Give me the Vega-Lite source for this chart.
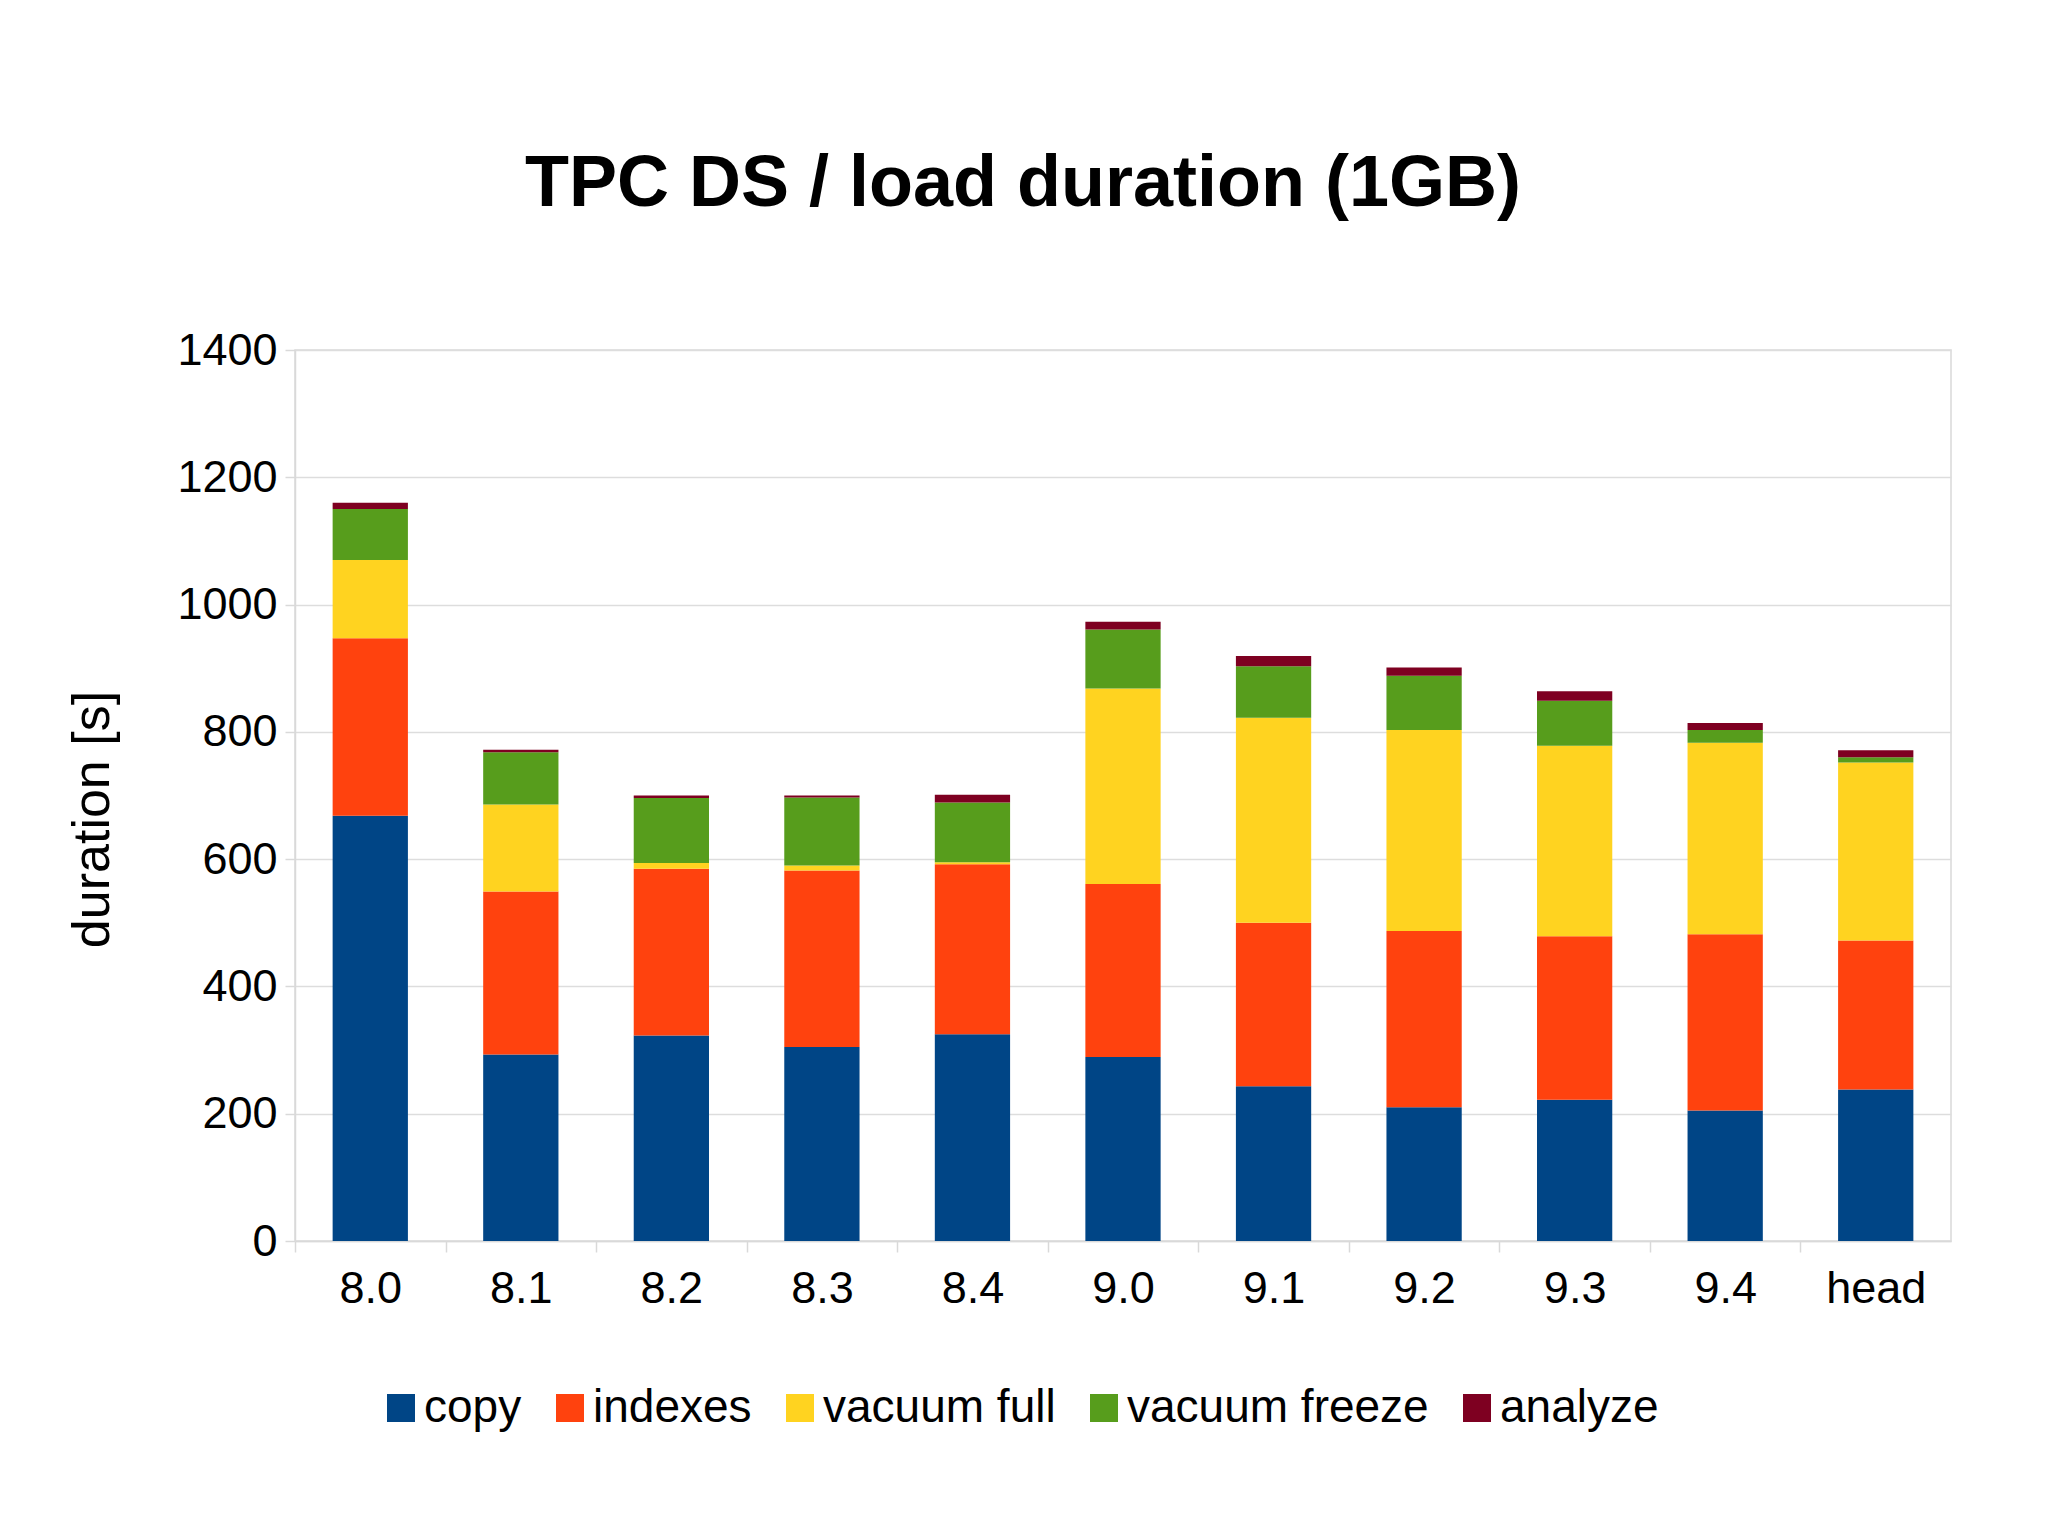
{
  "$schema": "https://vega.github.io/schema/vega-lite/v6.json",
  "width": 1656,
  "height": 891,
  "autosize": {"type": "none"},
  "padding": {"left": 295, "top": 350, "right": 97, "bottom": 294},
  "background": "white",
  "config": {
    "font": "Liberation Sans",
    "view": {"stroke": "#d9d9d9", "strokeWidth": 1.5}
  },
  "title": {
    "text": "TPC DS / load duration (1GB)",
    "fontSize": 72,
    "fontWeight": "bold",
    "color": "#000000",
    "anchor": "middle",
    "frame": "group",
    "dx": -100,
    "offset": 107
  },
  "data": {
    "values": [
      {"version": "8.0", "step": 1, "phase": "copy", "duration": 668},
      {"version": "8.0", "step": 2, "phase": "indexes", "duration": 279},
      {"version": "8.0", "step": 3, "phase": "vacuum full", "duration": 123},
      {"version": "8.0", "step": 4, "phase": "vacuum freeze", "duration": 80},
      {"version": "8.0", "step": 5, "phase": "analyze", "duration": 10},
      {"version": "8.1", "step": 1, "phase": "copy", "duration": 293},
      {"version": "8.1", "step": 2, "phase": "indexes", "duration": 256},
      {"version": "8.1", "step": 3, "phase": "vacuum full", "duration": 137},
      {"version": "8.1", "step": 4, "phase": "vacuum freeze", "duration": 82},
      {"version": "8.1", "step": 5, "phase": "analyze", "duration": 4},
      {"version": "8.2", "step": 1, "phase": "copy", "duration": 323},
      {"version": "8.2", "step": 2, "phase": "indexes", "duration": 262},
      {"version": "8.2", "step": 3, "phase": "vacuum full", "duration": 9},
      {"version": "8.2", "step": 4, "phase": "vacuum freeze", "duration": 102},
      {"version": "8.2", "step": 5, "phase": "analyze", "duration": 4},
      {"version": "8.3", "step": 1, "phase": "copy", "duration": 305},
      {"version": "8.3", "step": 2, "phase": "indexes", "duration": 277},
      {"version": "8.3", "step": 3, "phase": "vacuum full", "duration": 8},
      {"version": "8.3", "step": 4, "phase": "vacuum freeze", "duration": 107},
      {"version": "8.3", "step": 5, "phase": "analyze", "duration": 3},
      {"version": "8.4", "step": 1, "phase": "copy", "duration": 325},
      {"version": "8.4", "step": 2, "phase": "indexes", "duration": 267},
      {"version": "8.4", "step": 3, "phase": "vacuum full", "duration": 3},
      {"version": "8.4", "step": 4, "phase": "vacuum freeze", "duration": 94},
      {"version": "8.4", "step": 5, "phase": "analyze", "duration": 12},
      {"version": "9.0", "step": 1, "phase": "copy", "duration": 289},
      {"version": "9.0", "step": 2, "phase": "indexes", "duration": 272},
      {"version": "9.0", "step": 3, "phase": "vacuum full", "duration": 307},
      {"version": "9.0", "step": 4, "phase": "vacuum freeze", "duration": 93},
      {"version": "9.0", "step": 5, "phase": "analyze", "duration": 12},
      {"version": "9.1", "step": 1, "phase": "copy", "duration": 243},
      {"version": "9.1", "step": 2, "phase": "indexes", "duration": 257},
      {"version": "9.1", "step": 3, "phase": "vacuum full", "duration": 322},
      {"version": "9.1", "step": 4, "phase": "vacuum freeze", "duration": 81},
      {"version": "9.1", "step": 5, "phase": "analyze", "duration": 16},
      {"version": "9.2", "step": 1, "phase": "copy", "duration": 210},
      {"version": "9.2", "step": 2, "phase": "indexes", "duration": 277},
      {"version": "9.2", "step": 3, "phase": "vacuum full", "duration": 316},
      {"version": "9.2", "step": 4, "phase": "vacuum freeze", "duration": 85},
      {"version": "9.2", "step": 5, "phase": "analyze", "duration": 13},
      {"version": "9.3", "step": 1, "phase": "copy", "duration": 222},
      {"version": "9.3", "step": 2, "phase": "indexes", "duration": 257},
      {"version": "9.3", "step": 3, "phase": "vacuum full", "duration": 299},
      {"version": "9.3", "step": 4, "phase": "vacuum freeze", "duration": 71},
      {"version": "9.3", "step": 5, "phase": "analyze", "duration": 15},
      {"version": "9.4", "step": 1, "phase": "copy", "duration": 205},
      {"version": "9.4", "step": 2, "phase": "indexes", "duration": 277},
      {"version": "9.4", "step": 3, "phase": "vacuum full", "duration": 301},
      {"version": "9.4", "step": 4, "phase": "vacuum freeze", "duration": 20},
      {"version": "9.4", "step": 5, "phase": "analyze", "duration": 11},
      {"version": "head", "step": 1, "phase": "copy", "duration": 238},
      {"version": "head", "step": 2, "phase": "indexes", "duration": 234},
      {"version": "head", "step": 3, "phase": "vacuum full", "duration": 280},
      {"version": "head", "step": 4, "phase": "vacuum freeze", "duration": 8},
      {"version": "head", "step": 5, "phase": "analyze", "duration": 11}
    ]
  },
  "mark": {"type": "bar"},
  "encoding": {
    "x": {
      "field": "version",
      "type": "nominal",
      "sort": null,
      "scale": {"paddingInner": 0.5, "paddingOuter": 0.25},
      "axis": {
        "title": null,
        "labelAngle": 0,
        "labelFontSize": 45,
        "labelColor": "#000000",
        "labelPadding": 14,
        "tickSize": 11,
        "tickColor": "#d9d9d9",
        "tickWidth": 1.5,
        "tickOffset": -75.27,
        "labelOffset": 75.27,
        "domainColor": "#d9d9d9",
        "domainWidth": 1.5,
        "grid": false
      }
    },
    "y": {
      "field": "duration",
      "type": "quantitative",
      "stack": "zero",
      "scale": {"domain": [0, 1400], "nice": false},
      "axis": {
        "title": "duration [s]",
        "titleFontSize": 52,
        "titleFontWeight": "normal",
        "titleColor": "#000000",
        "titleX": -203,
        "titleY": 469,
        "titleAlign": "center",
        "titleBaseline": "middle",
        "values": [0, 200, 400, 600, 800, 1000, 1200, 1400],
        "format": "d",
        "labelFontSize": 45,
        "labelColor": "#000000",
        "labelPadding": 8,
        "tickSize": 10,
        "tickColor": "#d9d9d9",
        "tickWidth": 1.5,
        "domainColor": "#d9d9d9",
        "domainWidth": 1.5,
        "gridColor": "#dddddd",
        "gridWidth": 1.5
      }
    },
    "order": {"field": "step", "type": "quantitative", "sort": "ascending"},
    "color": {
      "field": "phase",
      "type": "nominal",
      "sort": ["copy", "indexes", "vacuum full", "vacuum freeze", "analyze"],
      "scale": {
        "domain": ["copy", "indexes", "vacuum full", "vacuum freeze", "analyze"],
        "range": ["#004586", "#ff420e", "#ffd320", "#579d1c", "#7e0021"]
      },
      "legend": {
        "title": null,
        "orient": "none",
        "direction": "horizontal",
        "legendX": 83,
        "legendY": 1035,
        "symbolType": "square",
        "symbolSize": 784,
        "symbolStrokeWidth": 0,
        "symbolOpacity": 1,
        "labelFontSize": 46,
        "labelColor": "#000000",
        "labelOffset": 0,
        "columnPadding": 25,
        "labelLimit": 500
      }
    }
  }
}
